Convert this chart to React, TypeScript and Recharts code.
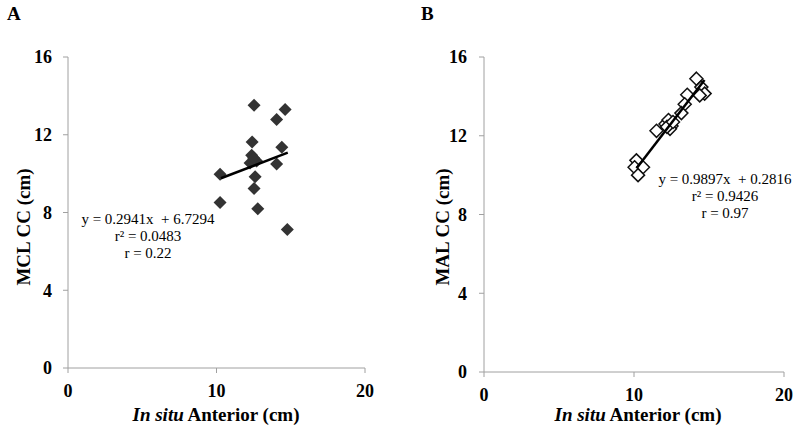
import React from 'react';
import {
  ScatterChart,
  Scatter,
  XAxis,
  YAxis,
} from 'recharts';

// tick values shared by both panels
const xTicks = [0, 10, 20];
const yTicks = [0, 4, 8, 12, 16];

// Panel A: MCL CC vs in situ anterior
const mclX = [12.53, 14.62, 14.05, 12.4, 14.4, 14.05, 10.24, 12.37, 12.26, 12.7, 12.5, 12.6, 12.53, 10.24, 12.78, 14.77];
const mclY = [13.52, 13.3, 12.78, 11.63, 11.36, 10.5, 9.97, 10.95, 10.55, 10.65, 10.8, 9.84, 9.24, 8.52, 8.19, 7.13];
const mclFitX = [10.3, 14.8];
const mclFitY = [9.76, 11.08];

// Panel B: MAL CC vs in situ anterior
const malX = [14.16, 14.49, 14.71, 14.38, 13.55, 13.38, 13.16, 12.1, 12.3, 12.5, 12.4, 12.2, 12.6, 11.5, 10.16, 10.04, 10.6, 10.27];
const malY = [14.9, 14.47, 14.14, 14.05, 14.08, 13.6, 13.15, 12.6, 12.8, 12.5, 12.35, 12.45, 12.7, 12.25, 10.75, 10.4, 10.4, 10.0];
const malFitX = [10.2, 14.7];
const malFitY = [10.38, 14.83];

const FONT = '"Liberation Serif", "Times New Roman", serif';
const AXIS = '#a0a0a0';

const toPts = (xs: number[], ys: number[]) => xs.map((x, i) => ({ x, y: ys[i] }));

const FilledDiamond = (props: any) => {
  const { cx, cy } = props;
  const r = 6.5;
  return <polygon points={`${cx},${cy - r} ${cx + r},${cy} ${cx},${cy + r} ${cx - r},${cy}`} fill="#333" />;
};

const OpenDiamond = (props: any) => {
  const { cx, cy } = props;
  const r = 6.5;
  return (
    <polygon
      points={`${cx},${cy - r} ${cx + r},${cy} ${cx},${cy + r} ${cx - r},${cy}`}
      fill="#fff"
      stroke="#111"
      strokeWidth={1.5}
    />
  );
};

const NoDot = () => <g />;

const XTitle = ({ cx }: any) => (
  <text x={cx} y={421} textAnchor="middle" fontFamily={FONT} fontSize={19} fontWeight="bold" fill="#000">
    <tspan fontStyle="italic">In situ</tspan>
    <tspan> Anterior (cm)</tspan>
  </text>
);

const YTitle = ({ cx, text }: any) => (
  <text
    x={cx}
    y={227}
    transform={`rotate(-90, ${cx}, 227)`}
    textAnchor="middle"
    dominantBaseline="central"
    fontFamily={FONT}
    fontSize={19}
    fontWeight="bold"
    fill="#000"
  >
    {text}
  </text>
);

const tickStyle = { fill: '#000', fontSize: 18, fontWeight: 'bold', fontFamily: FONT };

interface PanelProps {
  points: { x: number; y: number }[];
  fit: { x: number; y: number }[];
  filled: boolean;
  yTitle: string;
  margin: { top: number; right: number; left: number; bottom: number };
  yTitleX: number;
  xTitleX: number;
  yTickMargin: number;
}

const Panel: React.FC<PanelProps> = ({ points, fit, filled, yTitle, margin, yTitleX, xTitleX, yTickMargin }) => (
  <ScatterChart width={400} height={430} margin={margin}>
    <XAxis
      type="number"
      dataKey="x"
      domain={[0, 20]}
      ticks={xTicks}
      allowDataOverflow
      height={30}
      axisLine={{ stroke: AXIS }}
      tickLine={{ stroke: AXIS }}
      tickSize={5}
      tickMargin={11}
      tick={tickStyle}
      label={<XTitle cx={xTitleX} />}
    />
    <YAxis
      type="number"
      dataKey="y"
      domain={[0, 16]}
      ticks={yTicks}
      allowDataOverflow
      width={40}
      axisLine={{ stroke: AXIS }}
      tickLine={{ stroke: AXIS }}
      tickSize={5}
      tickMargin={yTickMargin}
      tick={tickStyle}
      label={<YTitle cx={yTitleX} text={yTitle} />}
    />
    <Scatter data={points} shape={filled ? FilledDiamond : OpenDiamond} isAnimationActive={false} />
    <Scatter
      data={fit}
      shape={NoDot}
      line={{ stroke: '#000', strokeWidth: 2.5 }}
      lineType="joint"
      isAnimationActive={false}
    />
  </ScatterChart>
);

const textBox: React.CSSProperties = {
  position: 'absolute',
  width: 200,
  textAlign: 'center',
  fontFamily: FONT,
  fontSize: 15,
  lineHeight: '17px',
  color: '#000',
};

export default function App() {
  return (
    <div style={{ position: 'absolute', left: 0, top: 0, width: 800, height: 430, overflow: 'hidden', background: '#fff' }}>
      <div style={{ position: 'absolute', left: 0, top: 0 }}>
        <Panel
          points={toPts(mclX, mclY)}
          fit={toPts(mclFitX, mclFitY)}
          filled
          yTitle="MCL CC (cm)"
          margin={{ top: 57, right: 35, left: 28, bottom: 32 }}
          yTitleX={23}
          xTitleX={216}
          yTickMargin={11}
        />
      </div>
      <div style={{ position: 'absolute', left: 400, top: 0 }}>
        <Panel
          points={toPts(malX, malY)}
          fit={toPts(malFitX, malFitY)}
          filled={false}
          yTitle="MAL CC (cm)"
          margin={{ top: 57, right: 16, left: 44, bottom: 28 }}
          yTitleX={42}
          xTitleX={238}
          yTickMargin={12}
        />
      </div>
      <div style={{ position: 'absolute', left: 7, top: 3, fontFamily: FONT, fontSize: 19, fontWeight: 'bold' }}>A</div>
      <div style={{ position: 'absolute', left: 421, top: 3, fontFamily: FONT, fontSize: 19, fontWeight: 'bold' }}>B</div>
      <div style={{ ...textBox, left: 48, top: 211 }}>
        <div>y = 0.2941x&nbsp; + 6.7294</div>
        <div>r² = 0.0483</div>
        <div>r = 0.22</div>
      </div>
      <div style={{ ...textBox, left: 625, top: 171 }}>
        <div>y = 0.9897x&nbsp; + 0.2816</div>
        <div>r² = 0.9426</div>
        <div>r = 0.97</div>
      </div>
    </div>
  );
}
